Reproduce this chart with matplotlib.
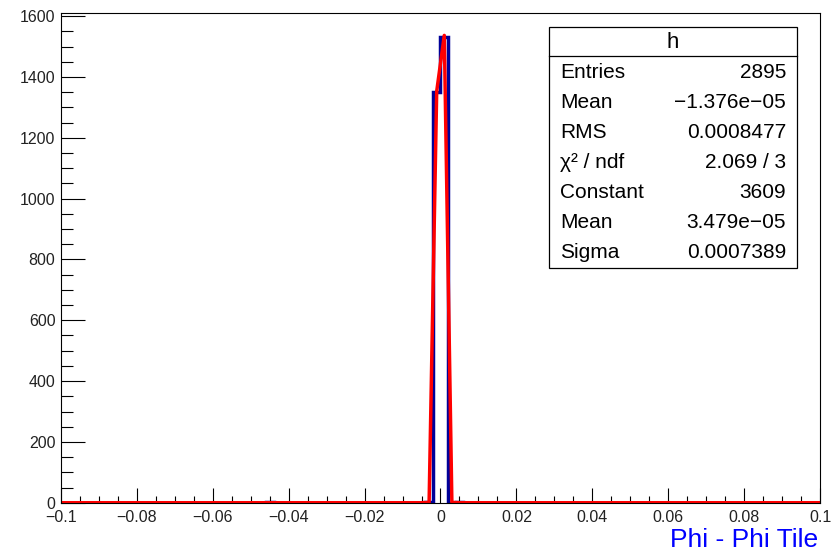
import numpy as np
import matplotlib.pyplot as plt
from matplotlib.patches import Rectangle
from matplotlib.lines import Line2D
from matplotlib.ticker import MultipleLocator

plt.rcParams['font.family'] = ['Liberation Sans', 'DejaVu Sans']

# histogram "h": 100 bins over [-0.1, 0.1], only a few are filled
bin_edges = np.linspace(-0.1, 0.1, 101)
hist_centers = [-0.045, -0.003, -0.001, 0.001, 0.005]
hist_counts = [4, 2, 1352, 1533, 4]

# gaus fit as drawn (polyline through the sampled points)
fit_x = [-0.1, -0.005, -0.003, -0.001, 0.001, 0.003, 0.005, 0.1]
fit_y = [0, 0, 0.8, 1353, 1537, 1.2, 0, 0]

stat_names = ['Entries', 'Mean', 'RMS', '\u03c7\u00b2 / ndf', 'Constant', 'Mean', 'Sigma']
stat_values = ['2895', '\u22121.376e\u221205', '0.0008477', '2.069 / 3', '3609',
               '3.479e\u221205', '0.0007389']

counts, _ = np.histogram(hist_centers, bins=bin_edges, weights=hist_counts)

fig = plt.figure(figsize=(8.33, 5.55), dpi=100)
ax = fig.add_axes([0.0732, 0.0942, 0.9112, 0.8818])

ax.stairs(counts, bin_edges, color='#000099', lw=2.5, baseline=0)
ax.plot(fit_x, fit_y, color='#ff0000', lw=2.5)

ax.set_xlim(-0.1, 0.1)
ax.set_ylim(0, 1.05 * max(counts))

ax.xaxis.set_major_locator(MultipleLocator(0.02))
ax.xaxis.set_minor_locator(MultipleLocator(0.005))
ax.yaxis.set_major_locator(MultipleLocator(200))
ax.yaxis.set_minor_locator(MultipleLocator(50))
ax.xaxis.set_major_formatter(plt.FuncFormatter(lambda v, p: f'{v:g}'.replace('-', '\u2212') if abs(v) > 1e-9 else '0'))

ax.tick_params(axis='x', which='major', direction='in', length=10.8, width=0.8, labelsize=11.5, pad=5.5)
ax.tick_params(axis='x', which='minor', direction='in', length=5.4, width=0.8)
ax.tick_params(axis='y', which='major', direction='in', length=17, width=0.8, labelsize=11.5, pad=4)
ax.tick_params(axis='y', which='minor', direction='in', length=8.6, width=0.8)
ax.tick_params(labelcolor='#222222')
for s in ax.spines.values():
    s.set_linewidth(0.8)

fig.text(0.982, 0.006, 'Phi - Phi Tile', color='#0000ff', fontsize=19, ha='right', va='bottom')

# stats box
x0, x1 = 549 / 833, 797 / 833
y_top, y_bot = 1 - 27 / 555, 1 - 268 / 555
fig.patches.append(Rectangle((x0, y_bot), x1 - x0, y_top - y_bot, transform=fig.transFigure,
                             facecolor='white', edgecolor='black', lw=0.9, zorder=5))
fig.lines.append(Line2D([x0, x1], [1 - 56 / 555] * 2, transform=fig.transFigure, color='black', lw=0.9, zorder=6))
fig.text((x0 + x1) / 2, 1 - 42 / 555, 'h', fontsize=16, ha='center', va='center', zorder=7)
for i, (n, v) in enumerate(zip(stat_names, stat_values)):
    yy = 1 - (73 + 30 * i) / 555
    fig.text(560 / 833, yy, n, fontsize=15, ha='left', va='center', zorder=7)
    fig.text(786 / 833, yy, v, fontsize=15, ha='right', va='center', zorder=7)

fig.savefig('out.png', dpi=100)
